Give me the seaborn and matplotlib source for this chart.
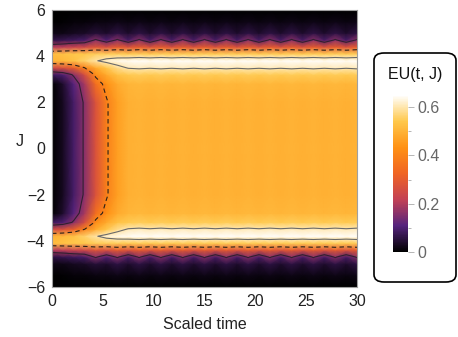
import numpy as np
import pandas as pd
import seaborn as sns
import matplotlib
matplotlib.use("Agg")
import matplotlib.pyplot as plt
from matplotlib.patches import FancyBboxPatch
from matplotlib.ticker import MultipleLocator

# mesh time nodes (scaled time)
t_nodes = [0, 1.07, 2.14, 3.21, 4.29, 5.36, 6.43, 7.5, 8.57, 9.64, 10.71, 11.79,
           12.86, 13.93, 15, 16.07, 17.14, 18.21, 19.29, 20.36, 21.43, 22.5,
           23.57, 24.64, 25.71, 26.79, 27.86, 28.93, 30]
# J rows of the upper half; the lower half mirrors it
J_rows = [0, 2.0, 2.8, 3.2, 3.5, 3.8, 4.1, 4.4, 4.7, 5.0, 5.5, 6.0]
# EU per J row at the early time nodes
eu_t0 = [0.00, 0.00, 0.00, 0.08, 0.25, 0.50, 0.52, 0.20, 0.06, 0.02, 0.00, 0.00]
eu_t1 = [0.03, 0.03, 0.04, 0.10, 0.27, 0.51, 0.53, 0.21, 0.07, 0.02, 0.005, 0.00]
eu_t2 = [0.09, 0.09, 0.11, 0.16, 0.31, 0.53, 0.54, 0.23, 0.08, 0.03, 0.01, 0.00]
eu_t3 = [0.16, 0.16, 0.19, 0.26, 0.40, 0.56, 0.54, 0.24, 0.09, 0.035, 0.01, 0.00]
eu_t4 = [0.27, 0.27, 0.35, 0.42, 0.48, 0.595, 0.55, 0.28, 0.16, 0.05, 0.015, 0.00]
eu_t5 = [0.39, 0.39, 0.43, 0.48, 0.54, 0.62, 0.55, 0.26, 0.10, 0.04, 0.015, 0.00]
eu_t6 = [0.46, 0.46, 0.48, 0.53, 0.58, 0.635, 0.55, 0.30, 0.16, 0.06, 0.02, 0.00]
# plateau: on the mesh nodes and half-way between them
eu_late = [0.50, 0.50, 0.51, 0.55, 0.61, 0.645, 0.55, 0.30, 0.16, 0.06, 0.02, 0.00]
eu_late_between = [0.495, 0.495, 0.505, 0.545, 0.605, 0.64, 0.545, 0.27, 0.09, 0.04, 0.015, 0.00]

cbar_ticks = [0, 0.2, 0.4, 0.6]

sns.set_theme(style="white")
plt.rcParams['font.family'] = ['Liberation Sans', 'DejaVu Sans']

early = [eu_t0, eu_t1, eu_t2, eu_t3, eu_t4, eu_t5, eu_t6]
records = []
for k, t in enumerate(t_nodes):
    col = early[k] if k < len(early) else (eu_late_between if k % 2 else eu_late)
    for J, v in zip(J_rows, col):
        records.append((t, J, v))
        if J > 0:
            records.append((t, -J, v))
df = pd.DataFrame(records, columns=["t", "J", "EU"])
grid = df.pivot_table(index="J", columns="t", values="EU")
T, JJ = np.meshgrid(grid.columns.values, grid.index.values)
Z = grid.values

cmap = sns.blend_palette(["#000000", "#55237d", "#c34155", "#f06423",
                          "#ff9114", "#ffc84b", "#ffffff"], as_cmap=True)

fig = plt.figure(figsize=(4.58, 3.37), dpi=100)
ax = fig.add_axes([52 / 458, 50 / 337, 305 / 458, 277 / 337])
m = ax.pcolormesh(T, JJ, Z, shading='gouraud', cmap=cmap, vmin=0, vmax=0.65,
                  rasterized=True)
ax.contour(T, JJ, Z, levels=[0.15], colors=["#302030"], linewidths=0.8)
ax.contour(T, JJ, Z, levels=[0.4], colors=["#2a2018"], linewidths=0.8,
           linestyles=[(0, (4, 3))])
ax.contour(T, JJ, Z, levels=[0.6], colors=["#6a6a6a"], linewidths=0.8)

ax.set_xlim(0, 30)
ax.set_ylim(-6, 6)
ax.set_xticks([0, 5, 10, 15, 20, 25, 30])
ax.set_yticks([-6, -4, -2, 0, 2, 4, 6])
ax.xaxis.set_minor_locator(MultipleLocator(1))
ax.yaxis.set_minor_locator(MultipleLocator(0.5))
ax.tick_params(which='both', direction='in', top=True, right=True,
               color='#999999', labelsize=11.5, labelcolor='#222222', width=0.7)
ax.tick_params(which='major', length=4, pad=5)
ax.tick_params(which='minor', length=2)
for sp in ax.spines.values():
    sp.set_color('#a0a0a0')
    sp.set_linewidth(0.8)
ax.set_xlabel("Scaled time", fontsize=11.5, color='#222222')
ax.set_ylabel("J", fontsize=11.5, rotation=0, color='#222222')
ax.xaxis.set_label_coords(0.5, -0.11)
ax.yaxis.set_label_coords(-0.105, 0.5)

# legend box with colorbar
box = FancyBboxPatch((374 / 458, 55 / 337), 82 / 458, 229 / 337,
                     boxstyle="round,pad=0,rounding_size=0.022",
                     transform=fig.transFigure, facecolor='white',
                     edgecolor='black', linewidth=1.2, zorder=0)
fig.add_artist(box)
fig.text(415 / 458, 1 - 75 / 337, "EU(t, J)", ha='center', va='center',
         fontsize=11.5, color='#111111')
cax = fig.add_axes([393 / 458, 85 / 337, 15 / 458, 157 / 337])
cb = fig.colorbar(m, cax=cax, ticks=cbar_ticks)
cb.outline.set_visible(False)
cb.ax.set_yticklabels(["0", "0.2", "0.4", "0.6"])
cb.ax.yaxis.set_minor_locator(MultipleLocator(0.1))
cb.ax.tick_params(which='both', colors='#aaaaaa', labelcolor='#666666',
                  labelsize=11.5, width=0.6)
cb.ax.tick_params(which='major', length=4, pad=3)
cb.ax.tick_params(which='minor', length=2)

fig.savefig("out.png", dpi=100)
